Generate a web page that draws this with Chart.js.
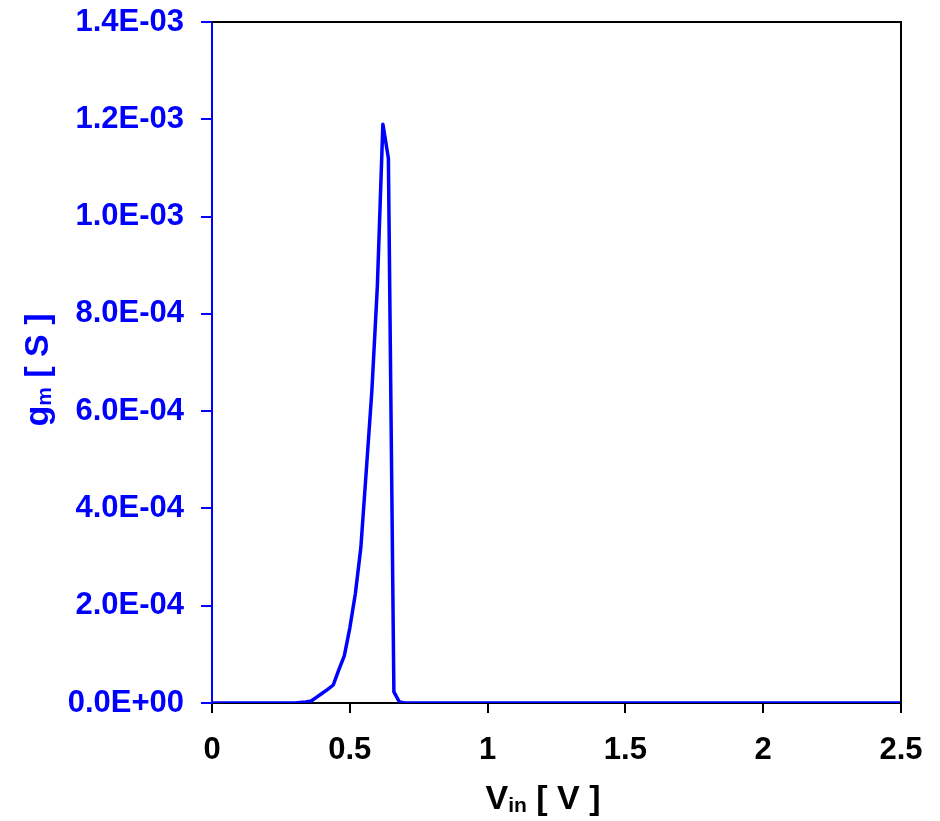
<!DOCTYPE html>
<html>
<head>
<meta charset="utf-8">
<script src="https://cdn.jsdelivr.net/npm/chart.js@4.4.1/dist/chart.umd.min.js"></script>
<style>
  html, body { margin: 0; padding: 0; background: #ffffff; }
  #wrap { width: 940px; height: 821px; position: relative; }
</style>
</head>
<body>
<div id="wrap"><canvas id="c" width="940" height="821"></canvas></div>
<script>
// Input voltage Vin [V]
const vin = [0, 0.30, 0.32, 0.34, 0.36, 0.38, 0.40, 0.42, 0.44, 0.46, 0.48, 0.50, 0.52, 0.54, 0.56, 0.58, 0.60, 0.62, 0.64, 0.66, 0.68, 0.70, 2.5];
// Transconductance gm [S]
const gm = [0, 0, 1.0e-6, 2.0e-6, 4.0e-6, 1.2e-5, 2.0e-5, 2.8e-5, 3.7e-5, 6.8e-5, 9.7e-5, 1.54e-4, 2.24e-4, 3.19e-4, 4.79e-4, 6.41e-4, 8.57e-4, 1.19e-3, 1.12e-3, 2.3e-5, 2.0e-6, 0, 0];
// Axis ticks
const xTicks = [0, 0.5, 1, 1.5, 2, 2.5];
const yTicks = [0, 2e-4, 4e-4, 6e-4, 8e-4, 1.0e-3, 1.2e-3, 1.4e-3];

const BLUE = '#0000FF';
const FONT = '"Liberation Sans", Arial, sans-serif';

function fmtExp(v) {
  if (Math.abs(v) < 1e-12) return '0.0E+00';
  let s = v.toExponential(1);
  let [m, e] = s.split('e');
  let sign = e[0] === '-' ? '-' : '+';
  let d = e.replace(/^[+-]/, '');
  if (d.length < 2) d = '0' + d;
  return m + 'E' + sign + d;
}

const points = vin.map((x, i) => ({ x: x, y: gm[i] }));

const titlePlugin = {
  id: 'titles',
  afterDraw(chart) {
    const ctx = chart.ctx;
    const a = chart.chartArea;
    ctx.save();
    // frame top and right
    ctx.strokeStyle = '#000';
    ctx.lineWidth = 2;
    ctx.beginPath();
    ctx.moveTo(a.left, a.top);
    ctx.lineTo(a.right, a.top);
    ctx.lineTo(a.right, a.bottom);
    ctx.stroke();

    const big = 'bold 34px ' + FONT;
    const small = 'bold 21px ' + FONT;
    // X title: V_in [ V ]
    ctx.fillStyle = '#000';
    ctx.textBaseline = 'alphabetic';
    ctx.font = big; const w1 = ctx.measureText('V').width;
    ctx.font = small; const w2 = ctx.measureText('in').width;
    ctx.font = big; const w3 = ctx.measureText(' [ V ]').width;
    let total = w1 + w2 + w3;
    let x0 = 543 - total / 2, yb = 809;
    ctx.textAlign = 'left';
    ctx.font = big; ctx.fillText('V', x0, yb);
    ctx.font = small; ctx.fillText('in', x0 + w1, yb + 3);
    ctx.font = big; ctx.fillText(' [ V ]', x0 + w1 + w2, yb);

    // Y title: g_m [ S ]
    ctx.fillStyle = BLUE;
    ctx.translate(48, 370);
    ctx.rotate(-Math.PI / 2);
    ctx.font = big; const g1 = ctx.measureText('g').width;
    ctx.font = small; const g2 = ctx.measureText('m').width;
    ctx.font = big; const g3 = ctx.measureText(' [ S ]').width;
    total = g1 + g2 + g3;
    x0 = -total / 2;
    ctx.font = big; ctx.fillText('g', x0, 0);
    ctx.font = small; ctx.fillText('m', x0 + g1, 3);
    ctx.font = big; ctx.fillText(' [ S ]', x0 + g1 + g2, 0);
    ctx.restore();
  }
};

new Chart(document.getElementById('c'), {
  type: 'scatter',
  data: {
    datasets: [{
      data: points,
      showLine: true,
      borderColor: BLUE,
      backgroundColor: BLUE,
      borderWidth: 3.5,
      pointRadius: 0,
      tension: 0,
      borderJoinStyle: 'round',
      borderCapStyle: 'round'
    }]
  },
  options: {
    responsive: false,
    animation: false,
    devicePixelRatio: 1,
    layout: { autoPadding: false, padding: { top: 22, right: 39, left: 0, bottom: 0 } },
    plugins: { legend: { display: false }, tooltip: { enabled: false }, title: { display: false } },
    scales: {
      x: {
        type: 'linear',
        min: 0, max: 2.5,
        afterFit(s) { s.height = 118; s.paddingLeft = 0; s.paddingRight = 0; s.paddingTop = 0; s.paddingBottom = 0; },
        afterBuildTicks(s) { s.ticks = xTicks.map(v => ({ value: v })); },
        grid: { display: true, drawOnChartArea: false, drawTicks: true, tickLength: 10, color: '#000', lineWidth: 2 },
        border: { display: true, color: '#000', width: 2 },
        ticks: {
          color: '#000',
          font: { family: FONT, size: 31, weight: 'bold' },
          padding: 19,
          maxRotation: 0,
          callback: v => String(Math.round(v * 10) / 10)
        }
      },
      y: {
        type: 'linear',
        min: 0, max: 1.4e-3,
        afterFit(s) { s.width = 212; s.paddingLeft = 0; s.paddingRight = 0; s.paddingTop = 0; s.paddingBottom = 0; },
        afterBuildTicks(s) { s.ticks = yTicks.map(v => ({ value: v })); },
        grid: { display: true, drawOnChartArea: false, drawTicks: true, tickLength: 11, color: BLUE, lineWidth: 2 },
        border: { display: true, color: BLUE, width: 2 },
        ticks: {
          color: BLUE,
          font: { family: FONT, size: 31, weight: 'bold' },
          padding: 17,
          callback: v => fmtExp(v)
        }
      }
    }
  },
  plugins: [titlePlugin]
});
</script>
</body>
</html>
